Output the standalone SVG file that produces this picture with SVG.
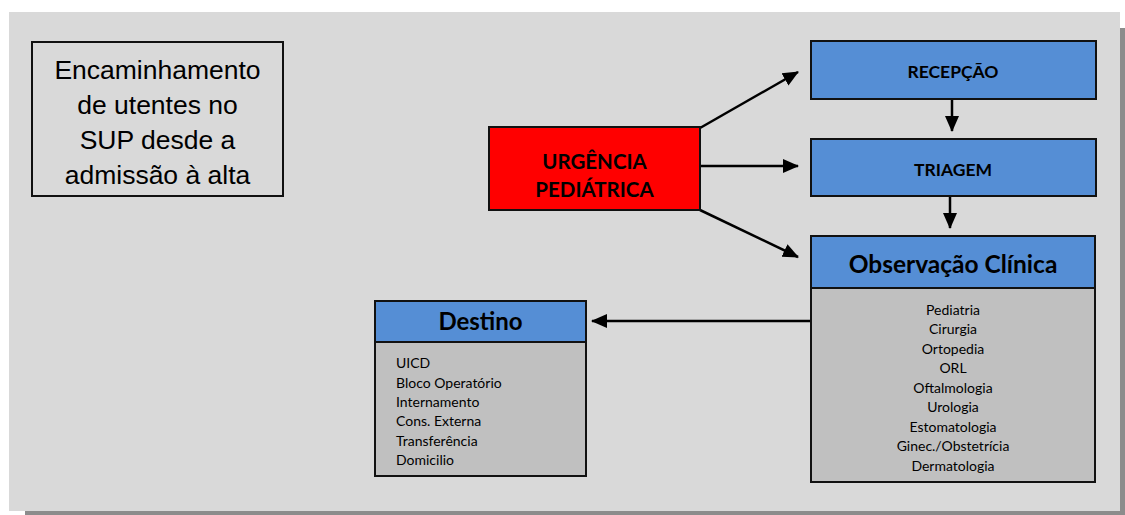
<svg xmlns="http://www.w3.org/2000/svg" width="1125" height="515" viewBox="0 0 1125 515">
<style>
.box{stroke:#111;stroke-width:2}
.blue{fill:#558ed5}
.body{fill:#c0c0c0}
.hdr{font-family:Lato,"Liberation Sans",sans-serif;font-weight:bold;fill:#000;text-anchor:middle}
.item{font-family:Lato,"Liberation Sans",sans-serif;font-size:14px;fill:#000}
.title{font-family:"Liberation Sans",Arial,sans-serif;font-size:26.5px;fill:#000;text-anchor:middle}
.conn{stroke:#000;stroke-width:2.5;fill:none;marker-end:url(#ah)}
</style>
<defs>
<marker id="ah" markerUnits="userSpaceOnUse" markerWidth="16" markerHeight="16" viewBox="0 0 16 16" refX="15" refY="8" orient="auto">
<path d="M0,1 L16,8 L0,15 Z" fill="#000"/>
</marker>
</defs>
<rect x="25" y="28" width="1100" height="487" fill="#8c8c8c"/>
<rect x="9" y="12" width="1111" height="499" fill="#d9d9d9"/>
<g id="title">
<rect x="32" y="42" width="251" height="154" fill="#d9d9d9" class="box"/>
<text class="title" x="157.5" y="79">Encaminhamento</text>
<text class="title" x="157.5" y="114">de utentes no</text>
<text class="title" x="157.5" y="149">SUP desde a</text>
<text class="title" x="157.5" y="184">admissão à alta</text>
</g>
<g id="connectors">
<line class="conn" x1="700" y1="128" x2="798" y2="72"/>
<line class="conn" x1="700" y1="166" x2="798" y2="166"/>
<line class="conn" x1="700" y1="210" x2="798" y2="257"/>
<line class="conn" x1="952" y1="99" x2="952" y2="131"/>
<line class="conn" x1="950" y1="196" x2="950" y2="228"/>
<line class="conn" x1="811" y1="321" x2="592" y2="321"/>
</g>
<g id="urgencia">
<rect x="489" y="127" width="211" height="83" fill="#ff0000" class="box"/>
<text class="hdr" x="594.5" y="169" font-size="20.5">URGÊNCIA</text>
<text class="hdr" x="594.5" y="197" font-size="20.5">PEDIÁTRICA</text>
</g>
<g id="recepcao">
<rect x="811" y="41" width="285" height="58" class="box blue"/>
<text class="hdr" x="953" y="78" font-size="17.5">RECEPÇÃO</text>
</g>
<g id="triagem">
<rect x="811" y="139" width="285" height="57" class="box blue"/>
<text class="hdr" x="953" y="176" font-size="17.5">TRIAGEM</text>
</g>
<g id="observacao">
<rect x="811" y="288" width="284" height="194" class="box body"/>
<rect x="811" y="236" width="284" height="52" class="box blue"/>
<text class="hdr" x="953" y="273" font-size="24.5">Observação Clínica</text>
<g class="item" text-anchor="middle">
<text x="953" y="315">Pediatria</text>
<text x="953" y="334">Cirurgia</text>
<text x="953" y="354">Ortopedia</text>
<text x="953" y="373">ORL</text>
<text x="953" y="393">Oftalmologia</text>
<text x="953" y="412">Urologia</text>
<text x="953" y="432">Estomatologia</text>
<text x="953" y="451">Ginec./Obstetrícia</text>
<text x="953" y="471">Dermatologia</text>
</g>
</g>
<g id="destino">
<rect x="375" y="342" width="211" height="134" class="box body"/>
<rect x="375" y="301" width="211" height="41" class="box blue"/>
<text class="hdr" x="480.5" y="330" font-size="24">Destino</text>
<g class="item">
<text x="396" y="368">UICD</text>
<text x="396" y="388">Bloco Operatório</text>
<text x="396" y="407">Internamento</text>
<text x="396" y="426">Cons. Externa</text>
<text x="396" y="446">Transferência</text>
<text x="396" y="465">Domicilio</text>
</g>
</g>
</svg>
